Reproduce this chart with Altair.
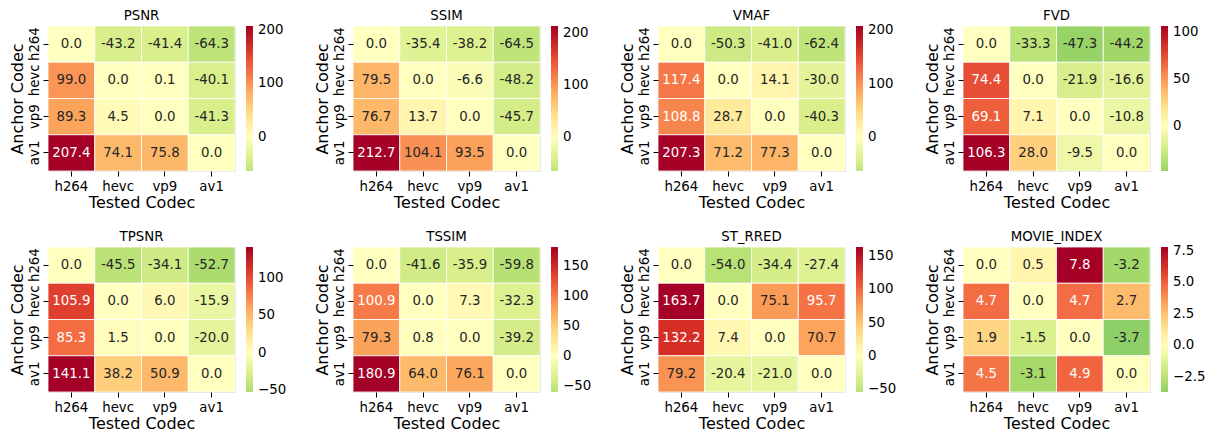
import altair as alt
import pandas as pd

ANCHORS = ["h264", "hevc", "vp9", "av1"]
TESTED = ["h264", "hevc", "vp9", "av1"]
METRICS = ["PSNR", "SSIM", "VMAF", "FVD", "TPSNR", "TSSIM", "ST_RRED", "MOVIE_INDEX"]

# rows = anchor codec (h264, hevc, vp9, av1), columns = tested codec
PSNR = [[0.0, -43.2, -41.4, -64.3],
        [99.0, 0.0, 0.1, -40.1],
        [89.3, 4.5, 0.0, -41.3],
        [207.4, 74.1, 75.8, 0.0]]
SSIM = [[0.0, -35.4, -38.2, -64.5],
        [79.5, 0.0, -6.6, -48.2],
        [76.7, 13.7, 0.0, -45.7],
        [212.7, 104.1, 93.5, 0.0]]
VMAF = [[0.0, -50.3, -41.0, -62.4],
        [117.4, 0.0, 14.1, -30.0],
        [108.8, 28.7, 0.0, -40.3],
        [207.3, 71.2, 77.3, 0.0]]
FVD = [[0.0, -33.3, -47.3, -44.2],
       [74.4, 0.0, -21.9, -16.6],
       [69.1, 7.1, 0.0, -10.8],
       [106.3, 28.0, -9.5, 0.0]]
TPSNR = [[0.0, -45.5, -34.1, -52.7],
         [105.9, 0.0, 6.0, -15.9],
         [85.3, 1.5, 0.0, -20.0],
         [141.1, 38.2, 50.9, 0.0]]
TSSIM = [[0.0, -41.6, -35.9, -59.8],
         [100.9, 0.0, 7.3, -32.3],
         [79.3, 0.8, 0.0, -39.2],
         [180.9, 64.0, 76.1, 0.0]]
ST_RRED = [[0.0, -54.0, -34.4, -27.4],
           [163.7, 0.0, 75.1, 95.7],
           [132.2, 7.4, 0.0, 70.7],
           [79.2, -20.4, -21.0, 0.0]]
MOVIE_INDEX = [[0.0, 0.5, 7.8, -3.2],
               [4.7, 0.0, 4.7, 2.7],
               [1.9, -1.5, 0.0, -3.7],
               [4.5, -3.1, 4.9, 0.0]]

MATRICES = [PSNR, SSIM, VMAF, FVD, TPSNR, TSSIM, ST_RRED, MOVIE_INDEX]

# colorbar tick labels
CBAR_TICKS = [
    [0, 100, 200],
    [0, 100, 200],
    [0, 100, 200],
    [0, 50, 100],
    [-50, 0, 50, 100],
    [-50, 0, 50, 100, 150],
    [-50, 0, 50, 100, 150],
    [-2.5, 0.0, 2.5, 5.0, 7.5],
]
CBAR_FORMAT = ["d", "d", "d", "d", "d", "d", "d", ".1f"]

# RdYlGn reversed (ColorBrewer stops)
RDYLGN_R = ["#006837", "#1a9850", "#66bd63", "#a6d96a", "#d9ef8b", "#ffffbf",
            "#fee08b", "#fdae61", "#f46d43", "#d73027", "#a50026"]

FONT = "DejaVu Sans"
FS = 13.33
W, H = 187, 145


def hex2rgb(h):
    h = h.lstrip("#")
    return [int(h[i:i + 2], 16) / 255 for i in (0, 2, 4)]


def cmap(p):
    p = min(max(p, 0.0), 1.0)
    i = min(int(p * 10), 9)
    t = p * 10 - i
    a, b = hex2rgb(RDYLGN_R[i]), hex2rgb(RDYLGN_R[i + 1])
    return [a[k] + (b[k] - a[k]) * t for k in range(3)]


def rgb2hex(c):
    return "#" + "".join(f"{int(round(v * 255)):02x}" for v in c)


def luminance(c):
    lin = [v / 12.92 if v <= 0.03928 else ((v + 0.055) / 1.055) ** 2.4 for v in c]
    return 0.2126 * lin[0] + 0.7152 * lin[1] + 0.0722 * lin[2]


def panel(name, matrix, ticks, fmt):
    flat = [v for row in matrix for v in row]
    vmin, vmax = min(flat), max(flat)
    vr = max(vmax, -vmin)

    def pos(v):
        return 0.5 + v / (2 * vr)

    dom = [vmin]
    rng = [rgb2hex(cmap(pos(vmin)))]
    for k in range(11):
        v = (k - 5) / 5 * vr
        if vmin < v < vmax:
            dom.append(v)
            rng.append(RDYLGN_R[k])
    dom.append(vmax)
    rng.append(rgb2hex(cmap(pos(vmax))))

    rows = []
    for i, a in enumerate(ANCHORS):
        for j, t in enumerate(TESTED):
            v = matrix[i][j]
            light = luminance(cmap(pos(v))) > 0.408
            rows.append({"anchor": a, "tested": t, "value": v,
                         "label": f"{v:.1f}", "darktext": bool(light)})
    df = pd.DataFrame(rows)

    x_axis = alt.Axis(labelAngle=0, domain=False, tickSize=5, tickColor="black",
                      tickWidth=1, labelFontSize=FS, titleFontSize=16,
                      labelPadding=3, titlePadding=2, labelColor="black",
                      titleColor="black", titleFontWeight="normal",
                      labelFont=FONT, titleFont=FONT)
    y_axis = alt.Axis(labelAngle=-90, labelAlign="center", labelBaseline="bottom",
                      domain=False, tickSize=5, tickColor="black", tickWidth=1,
                      labelFontSize=FS, titleFontSize=16, labelPadding=2,
                      titlePadding=2, labelColor="black", titleColor="black",
                      titleFontWeight="normal", labelFont=FONT, titleFont=FONT)

    base = alt.Chart(df).encode(
        x=alt.X("tested:N", sort=TESTED, title="Tested Codec", axis=x_axis),
        y=alt.Y("anchor:N", sort=ANCHORS, title="Anchor Codec", axis=y_axis),
    )
    rect = base.mark_rect(stroke="white", strokeWidth=0.8).encode(
        color=alt.Color(
            "value:Q",
            scale=alt.Scale(domain=dom, range=rng, interpolate="rgb"),
            legend=alt.Legend(
                title=None, orient="right", direction="vertical", offset=11,
                gradientLength=H, gradientThickness=7, gradientStrokeWidth=0,
                values=ticks, format=fmt, labelFontSize=FS, labelFont=FONT,
                labelColor="black", labelOffset=5, labelOverlap=False, padding=0,
            ),
        )
    )
    text_dark = base.mark_text(font=FONT, fontSize=FS, color="#262626").encode(
        text="label:N"
    ).transform_filter("datum.darktext")
    text_white = base.mark_text(font=FONT, fontSize=FS, color="#ffffff").encode(
        text="label:N"
    ).transform_filter("!datum.darktext")
    return alt.layer(rect, text_dark, text_white).properties(
        width=W, height=H,
        title=alt.TitleParams(name, fontSize=FS, fontWeight="normal", font=FONT,
                              color="black", offset=3),
    )


panels = [panel(n, m, t, f) for n, m, t, f in zip(METRICS, MATRICES, CBAR_TICKS, CBAR_FORMAT)]

chart = alt.concat(
    *panels, columns=4, spacing={"row": 76, "column": 118}, bounds="flush"
).resolve_scale(
    color="independent"
).properties(
    padding={"left": 0, "top": 0, "right": 0, "bottom": 0}
).configure_view(stroke=None).configure(background="white")

chart.save("out.html", embed_options={"renderer": "svg", "actions": False})
